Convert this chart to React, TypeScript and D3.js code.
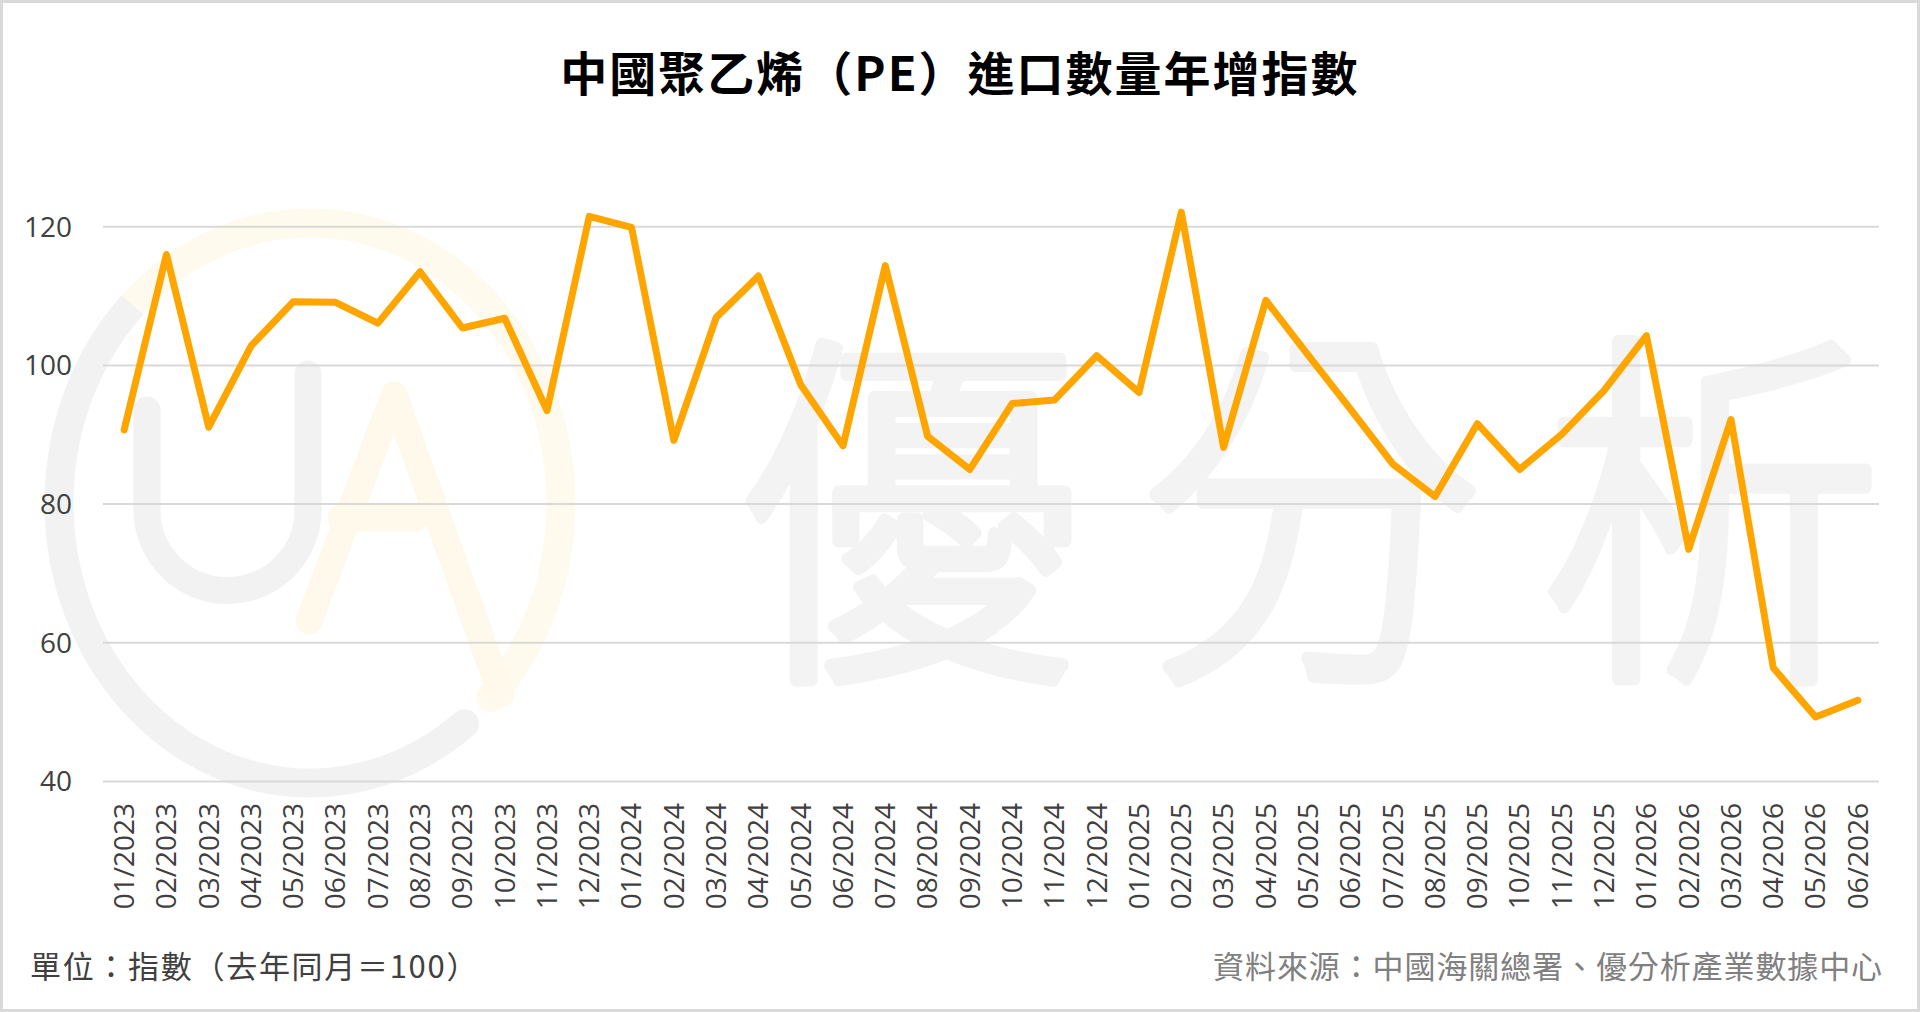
import * as d3 from 'd3';
import React from 'react';

const months = [
  '01/2023', '02/2023', '03/2023', '04/2023', '05/2023', '06/2023', '07/2023', '08/2023', '09/2023', '10/2023', '11/2023', '12/2023',
  '01/2024', '02/2024', '03/2024', '04/2024', '05/2024', '06/2024', '07/2024', '08/2024', '09/2024', '10/2024', '11/2024', '12/2024',
  '01/2025', '02/2025', '03/2025', '04/2025', '05/2025', '06/2025', '07/2025', '08/2025', '09/2025', '10/2025', '11/2025', '12/2025',
  '01/2026', '02/2026', '03/2026', '04/2026', '05/2026', '06/2026',
];

const indexValues = [
  90.7, 116.0, 91.1, 102.8, 109.2, 109.1, 106.1, 113.5, 105.4, 106.8, 93.5, 121.5,
  119.9, 89.2, 106.9, 112.9, 97.2, 88.4, 114.4, 89.8, 85.0, 94.5, 95.0, 101.4,
  96.1, 122.1, 88.2, 109.4, 101.5, 93.7, 85.8, 81.1, 91.6, 85.0, 90.1, 96.4,
  104.3, 73.5, 92.2, 56.4, 49.3, 51.7,
];

const yTicks = [40, 60, 80, 100, 120];

const title = '中國聚乙烯（PE）進口數量年增指數';
const unitNote = '單位：指數（去年同月＝100）';
const sourceNote = '資料來源：中國海關總署、優分析產業數據中心';
const watermarkChars = ['優', '分', '析'];

const W = 1920;
const H = 1012;
const plot = { left: 103, right: 1879, top: 157.4, bottom: 781.5 };
const font = '"Open Sans", "Noto Sans CJK TC", sans-serif';
const cjk = '"Noto Sans CJK TC", "Open Sans", sans-serif';

const App: React.FC = () => {
  const x = d3.scaleBand<string>().domain(months).range([plot.left, plot.right]);
  const y = d3.scaleLinear().domain([40, 130]).range([plot.bottom, plot.top]);
  const cx = (m: string) => (x(m) ?? 0) + x.bandwidth() / 2;

  const line = d3.line<number>()
    .x((_d, i) => cx(months[i]))
    .y((d) => y(d));

  // watermark logo: ring (gray + pale yellow), U and A
  const ringCx = 310;
  const ringCy = 503;
  const rx = 251;
  const ry = 280;
  const ringW = 29;
  const pt = (deg: number) => {
    const a = (deg * Math.PI) / 180;
    return [ringCx + rx * Math.cos(a), ringCy - ry * Math.sin(a)];
  };
  const arcPath = (from: number, to: number, sweep: number) => {
    const [x0, y0] = pt(from);
    const [x1, y1] = pt(to);
    const large = Math.abs(to - from) > 180 ? 1 : 0;
    return `M${x0},${y0} A${rx},${ry} 0 ${large} ${sweep} ${x1},${y1}`;
  };
  const grayArc = arcPath(135, 308, 0);
  const yellowArc = arcPath(135, -44, 1);
  const grayEnd = pt(308);
  const yellowEnd = pt(-44);

  return (
    <div style={{ position: 'fixed', left: 0, top: 0 }}>
      <svg width={W} height={H} style={{ display: 'block', background: '#fff' }}>
        <rect x={1.5} y={1.5} width={W - 3} height={H - 3} fill="#fff" stroke="#d9d9d9" strokeWidth={3} />

        {/* watermark */}
        <g fill="none" strokeLinejoin="round">
          <path d={yellowArc} stroke="#fffaee" strokeWidth={ringW} />
          <circle cx={yellowEnd[0]} cy={yellowEnd[1]} r={ringW / 2} fill="#fffaee" />
          <path d={grayArc} stroke="#f2f2f2" strokeWidth={ringW} />
          <circle cx={grayEnd[0]} cy={grayEnd[1]} r={ringW / 2} fill="#f2f2f2" />
          <path d="M147,410 V510 A80.5,80.5 0 0 0 308,510 V374" stroke="#f2f2f2" strokeWidth={27} strokeLinecap="round" />
          <path d="M309,621 L394,395 L501,694 M341,518 H415" stroke="#fff9ec" strokeWidth={27} strokeLinecap="round" />
        </g>
        <g fill="#f3f3f3" stroke="#f3f3f3" strokeWidth={13} strokeLinejoin="round" fontFamily={cjk} fontWeight={300} fontSize={372} textAnchor="middle">
          {watermarkChars.map((c, i) => (
            <text key={c} transform={`translate(${910 + i * 401},652) scale(0.92,1)`}>{c}</text>
          ))}
        </g>

        {/* gridlines */}
        <g>
          {yTicks.map((t) => (
            <line key={t} x1={plot.left} x2={plot.right} y1={y(t)} y2={y(t)} stroke="#d9d9d9" strokeWidth={2} />
          ))}
        </g>

        {/* y labels */}
        <g fontFamily={font} fontSize={28} fill="#404040" textAnchor="end">
          {yTicks.map((t) => (
            <text key={t} x={72} y={y(t)} dy="0.35em">{t}</text>
          ))}
        </g>

        {/* x labels */}
        <g fontFamily={font} fontSize={28} fill="#404040" textAnchor="end">
          {months.map((m) => (
            <text key={m} transform={`translate(${cx(m)},803) rotate(-90)`} dy="0.35em">{m}</text>
          ))}
        </g>

        <path d={line(indexValues) ?? ''} fill="none" stroke="#ffa500" strokeWidth={7} strokeLinejoin="round" strokeLinecap="round" />

        <text x={W / 2} y={91} textAnchor="middle" fontFamily={cjk} fontWeight="bold" fontSize={47} letterSpacing={2} fill="#000">{title}</text>
        <text x={30} y={978} fontFamily={cjk} fontSize={31} letterSpacing={1.7} fill="#404040">{unitNote}</text>
        <text x={1883} y={978} textAnchor="end" fontFamily={cjk} fontSize={31} letterSpacing={0.9} fill="#808080">{sourceNote}</text>
      </svg>
    </div>
  );
};

export default App;
